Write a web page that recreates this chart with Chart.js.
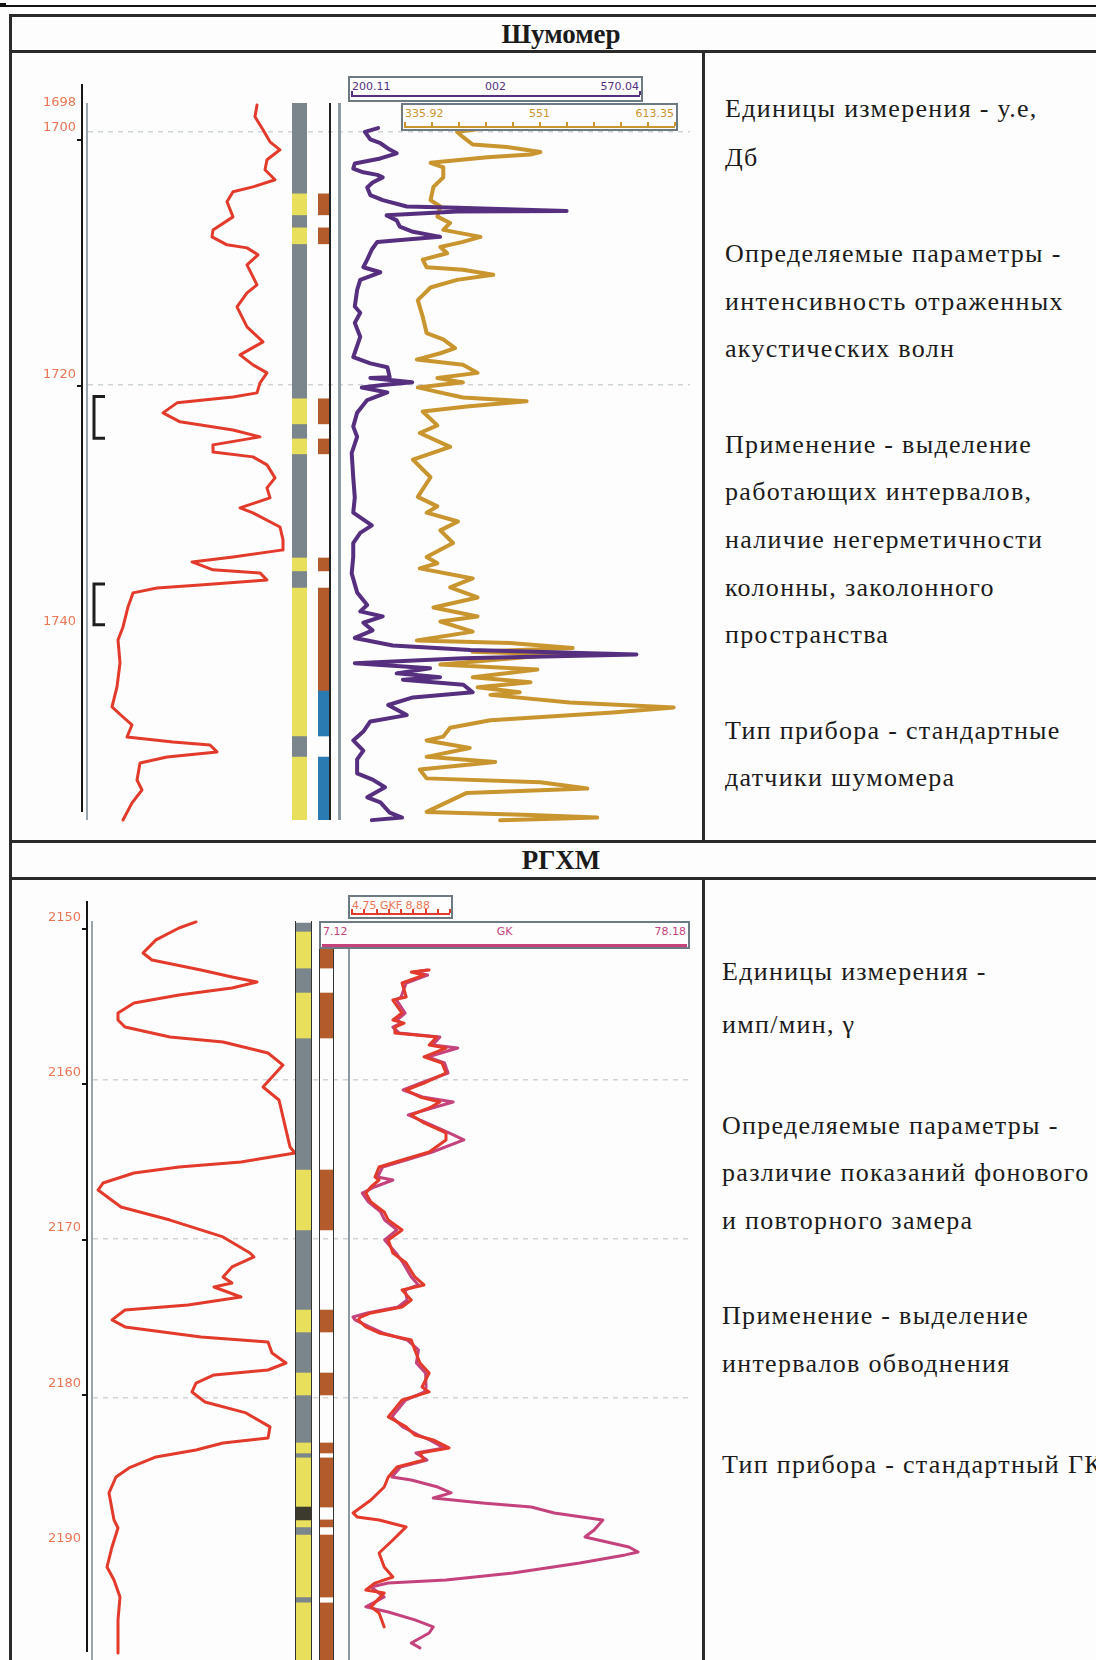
<!DOCTYPE html>
<html lang="ru">
<head>
<meta charset="utf-8">
<title>Шумомер / РГХМ</title>
<script src="https://cdn.jsdelivr.net/npm/chart.js@4.4.1/dist/chart.umd.min.js"></script>
<style>
  html,body{margin:0;padding:0;background:#fdfdfd;}
  #page{position:relative;width:1096px;height:1660px;overflow:hidden;background:#fdfdfd;
        font-family:"Liberation Serif","Times New Roman",serif;color:#1b1b1b;}
  #page canvas,#page .el{position:absolute;}
  .title{font-weight:bold;font-size:27px;text-align:center;width:300px;line-height:30px;}
  .txt{font-size:26px;line-height:30px;white-space:nowrap;letter-spacing:1.3px;}
  .box{border:2px solid #6d7a82;background:#fdfdfd;box-sizing:border-box;
       font-family:"DejaVu Sans",sans-serif;font-size:11px;line-height:12px;}
</style>
</head>
<body>
<div id="page"></div>
<script>
// ---------------- data: Шумомер (noise log), depths in m ----------------
const shumDepthRange = [1697.72, 1754.39];
const shumAxisRange = [1695.57, 1754.39];
const shumDepthTicks = [1698, 1700, 1720, 1740];
const shumGridDepths = [1700, 1720];

// left track curve, relative units 0..100
const shumLeftCurve = [[1697.87,83.5],[1698.81,82.5],[1699.84,86.5],[1700.79,90],[1701.42,95],[1702.21,88.5],[1703.0,87.5],[1703.79,92.5],[1704.35,81.5],[1704.74,71.5],[1705.53,68.5],[1706.72,71.5],[1707.75,61.5],[1708.3,61],[1708.93,68.5],[1709.17,78.5],[1709.72,84],[1710.51,78.5],[1712.09,83.5],[1712.73,78.5],[1713.83,73.5],[1715.42,78.5],[1716.6,86.5],[1717.63,75],[1718.42,81.5],[1719.05,88.5],[1719.84,85],[1720.63,83.5],[1720.95,71.5],[1721.42,43.5],[1722.21,36.5],[1722.92,45],[1723.56,71.5],[1724.11,85],[1724.74,61.5],[1725.3,61.5],[1725.69,81.5],[1726.32,88.5],[1727.35,92.5],[1728.14,88.5],[1728.93,90],[1729.72,75],[1730.12,81.5],[1731.23,95],[1732.25,96.5],[1733.04,96.5],[1733.6,71.5],[1733.99,51],[1734.62,61.5],[1734.86,85],[1735.42,88.5],[1735.81,55],[1736.05,33.5],[1736.44,21.5],[1737.55,19],[1739.13,16.5],[1740.16,14],[1741.98,15],[1743.87,13.5],[1745.45,11],[1746.25,16.5],[1746.88,21],[1747.83,18.5],[1748.22,41.5],[1748.46,60],[1749.01,63.5],[1749.41,38.5],[1749.88,25],[1751.23,23.5],[1752.02,26],[1753.04,21],[1754.39,16.5]];

// noise curve 1, scale 200.11 .. 570.04
const shumPurpleScale = [200.11, 570.04];
const shumPurple = [[1699.7,235],[1700.0,218],[1700.6,225],[1700.9,238],[1701.4,250],[1701.7,259],[1702.1,238],[1702.5,205],[1702.9,203],[1703.2,216],[1703.4,234],[1703.6,241],[1704.0,228],[1704.4,221],[1705.0,225],[1705.4,241],[1705.9,272],[1706.0,337],[1706.25,478],[1706.3,337],[1706.6,246],[1707.0,259],[1707.5,263],[1707.9,280],[1708.3,315],[1708.5,272],[1708.7,234],[1709.3,227],[1710.1,221],[1710.7,216],[1711.1,238],[1711.7,212],[1712.5,208],[1713.8,205],[1714.3,212],[1715.1,205],[1716.2,212],[1717.8,203],[1718.3,225],[1718.6,247],[1719.4,250],[1719.45,225],[1719.8,279],[1720.0,241],[1720.2,214],[1720.6,247],[1721.2,221],[1722.2,208],[1723.3,203],[1724.1,208],[1725.4,201],[1727.3,203],[1728.9,205],[1730.1,203],[1731.1,227],[1731.7,212],[1732.5,203],[1733.6,203],[1734.9,201],[1736.4,208],[1737.4,221],[1737.9,212],[1738.3,241],[1738.8,216],[1739.4,228],[1740.0,205],[1740.6,254],[1740.95,354],[1741.3,568],[1741.6,345],[1742.0,205],[1742.4,302],[1742.8,259],[1743.1,315],[1743.3,267],[1743.7,345],[1744.3,357],[1744.7,280],[1745.3,248],[1746.1,272],[1746.6,225],[1747.4,216],[1748.1,203],[1748.9,216],[1749.6,208],[1750.7,208],[1751.2,228],[1751.8,244],[1752.6,221],[1753.0,238],[1753.8,250],[1754.2,266],[1754.4,227]];

// noise curve 2, scale 335.92 .. 613.35
const shumOrangeScale = [335.92, 613.35];
const shumOrange = [[1699.7,422],[1700.0,391],[1700.4,397],[1701.0,407],[1701.2,442],[1701.6,476],[1701.8,466],[1702.0,422],[1702.45,364],[1702.8,377],[1703.6,377],[1704.35,367],[1705.4,364],[1705.9,374],[1706.7,371],[1707.2,384],[1707.75,377],[1708.3,415],[1708.7,397],[1709.1,374],[1709.6,381],[1710.1,356],[1710.7,360],[1710.9,397],[1711.3,428],[1711.7,391],[1712.3,364],[1713.3,351],[1714.6,356],[1715.9,360],[1716.4,377],[1717.1,389],[1717.5,374],[1718.0,350],[1718.4,397],[1719.05,412],[1719.45,371],[1719.8,397],[1720.2,351],[1720.55,371],[1721.0,397],[1721.3,462],[1721.7,401],[1722.1,356],[1723.2,371],[1723.8,353],[1724.9,384],[1725.9,346],[1727.3,364],[1728.85,351],[1729.6,371],[1730.1,360],[1730.8,392],[1731.5,374],[1732.5,387],[1733.6,360],[1734.1,371],[1734.5,353],[1735.3,407],[1736.0,384],[1736.8,412],[1737.6,367],[1738.3,412],[1738.7,374],[1739.5,407],[1740.2,350],[1740.4,445],[1740.8,509],[1741.1,407],[1741.3,493],[1742.1,374],[1742.5,473],[1743.1,407],[1743.5,466],[1743.9,412],[1744.3,455],[1744.5,425],[1745.1,506],[1745.5,612],[1745.9,550],[1746.5,425],[1747.1,384],[1747.8,377],[1748.1,360],[1748.7,404],[1749.4,360],[1749.8,430],[1750.4,353],[1751.1,360],[1751.4,476],[1751.9,524],[1752.25,401],[1753.75,360],[1754.0,466],[1754.2,534],[1754.4,435]];

// lithology and marked intervals
const shumColumn = [[1697.72, 1754.39]];
const shumYellow = [[1704.9,1706.56],[1707.59,1708.85],[1721.1,1723.08],[1724.27,1725.45],[1733.68,1734.7],[1736.05,1747.75],[1749.41,1754.39]];
const shumBrown = [[1704.9,1706.56],[1707.59,1708.85],[1721.1,1723.08],[1724.27,1725.45],[1733.68,1734.7],[1736.05,1744.2]];
const shumBlue = [[1744.2,1747.75],[1749.41,1754.39]];
const shumBrackets = [[1720.8,1724.2],[1736.0,1739.3]];

// ---------------- data: РГХМ, depths in m ----------------
const rghmDepthRange = [2150.0, 2196.48];
const rghmAxisRange = [2148.24, 2196.48];
const rghmDepthTicks = [2150, 2160, 2170, 2180, 2190];
const rghmTickMarks = [2150, 2160, 2170, 2180];
const rghmGridDepths = [2160, 2170, 2180];

const rghmLeftCurve = [[2150.06,53],[2150.44,44.5],[2151.19,33],[2152.01,26.5],[2152.45,31],[2153.08,55.5],[2153.52,71],[2153.84,83.5],[2154.21,71],[2154.65,44.5],[2155.16,22],[2155.79,14],[2156.23,14],[2156.67,17.5],[2157.3,40],[2157.61,66.5],[2158.3,89],[2159.06,96.5],[2160.44,86.5],[2161.26,94.5],[2163.14,98],[2164.21,100],[2164.59,102.5],[2165.16,75.5],[2165.47,44.5],[2165.85,22],[2166.48,6.5],[2166.92,4],[2167.99,15.5],[2168.81,40],[2169.87,66.5],[2170.88,80],[2171.13,82],[2171.76,71],[2172.39,66.5],[2172.77,71],[2173.02,62],[2173.65,75.5],[2174.15,49],[2174.47,17.5],[2175.09,11],[2175.53,17.5],[2176.16,55.5],[2176.48,89],[2177.17,91],[2177.8,98],[2178.24,89],[2178.55,62],[2179.06,53],[2179.62,51],[2180.25,57.5],[2180.94,78],[2181.82,90],[2182.52,89],[2182.83,66.5],[2183.27,53],[2183.71,33],[2184.4,19.5],[2184.97,13],[2185.97,9.5],[2187.67,12],[2188.18,14],[2189.37,11],[2190.63,8.5],[2191.45,12],[2192.52,15],[2193.96,14],[2196.04,14]];

// GK curves, scale 7.12 .. 78.18
const gkScale = [7.12, 78.18];
const gkRed = [[2153.08,27.9],[2153.21,24.4],[2153.4,26.9],[2153.9,22.6],[2154.78,23.4],[2154.97,20.8],[2155.79,22.6],[2156.23,20.8],[2156.42,23.0],[2156.67,21.2],[2157.04,21.2],[2157.3,29.4],[2157.8,27.9],[2157.99,31.2],[2158.55,26.9],[2158.93,30.4],[2159.56,31.2],[2160.19,26.9],[2160.63,23.4],[2161.07,26.1],[2161.38,30.0],[2161.76,27.9],[2162.2,24.4],[2162.7,26.9],[2163.33,31.2],[2163.77,31.2],[2164.53,27.9],[2165.03,22.6],[2165.47,18.1],[2166.1,17.3],[2166.29,18.1],[2166.73,16.5],[2167.11,15.5],[2167.67,16.5],[2168.3,19.1],[2168.81,19.9],[2169.43,22.6],[2170.06,19.9],[2170.88,20.8],[2171.51,23.4],[2172.39,25.1],[2172.89,26.9],[2173.21,22.6],[2173.84,24.4],[2174.28,22.6],[2174.65,16.5],[2174.91,14.5],[2175.09,14.0],[2175.53,15.5],[2175.91,18.1],[2176.35,24.4],[2176.98,25.1],[2177.8,26.1],[2178.43,27.9],[2179.31,26.5],[2179.62,27.9],[2180.13,22.6],[2181.19,19.9],[2181.82,23.4],[2182.33,25.1],[2182.64,28.7],[2183.14,31.8],[2183.46,26.1],[2183.9,26.9],[2184.34,21.6],[2184.97,19.9],[2185.6,19.1],[2186.42,16.5],[2187.23,13.0],[2187.48,13.8],[2187.67,18.1],[2188.11,23.4],[2188.93,20.8],[2189.75,18.1],[2190.63,19.1],[2191.26,20.8],[2191.64,17.3],[2192.08,15.5],[2192.26,19.1],[2193.14,16.5],[2193.52,18.1],[2194.4,19.1]];
const gkMagenta = [[2153.08,27.5],[2153.21,25.0],[2153.4,27.6],[2153.9,23.4],[2154.78,22.4],[2154.97,21.5],[2155.79,23.2],[2156.23,21.6],[2156.42,22.4],[2156.67,20.8],[2157.04,22.0],[2157.3,30.0],[2157.8,28.6],[2157.99,33.5],[2158.55,27.6],[2158.93,30.9],[2159.56,31.6],[2160.19,26.3],[2160.63,22.8],[2161.07,26.6],[2161.38,32.6],[2161.76,28.5],[2162.2,23.8],[2162.7,27.4],[2163.33,31.8],[2163.77,34.7],[2164.53,28.5],[2165.03,23.4],[2165.47,18.8],[2166.1,17.8],[2166.29,20.8],[2166.73,17.2],[2167.11,14.8],[2167.67,16.0],[2168.3,18.4],[2168.81,19.2],[2169.43,21.6],[2170.06,19.2],[2170.88,21.4],[2171.51,22.8],[2172.39,24.4],[2172.89,25.8],[2173.21,23.2],[2173.84,23.6],[2174.28,21.8],[2174.65,15.8],[2174.91,13.0],[2175.09,13.4],[2175.53,16.2],[2175.91,18.8],[2176.35,23.6],[2176.98,25.8],[2177.8,25.4],[2178.43,27.2],[2179.31,27.3],[2179.62,27.0],[2180.13,23.3],[2181.19,20.6],[2181.82,22.7],[2182.33,25.8],[2182.64,28.0],[2183.14,30.8],[2183.46,25.3],[2183.9,27.5],[2184.34,22.3],[2184.97,20.6],[2185.16,24.4],[2185.6,29.6],[2185.97,32.2],[2186.29,28.7],[2186.6,38.3],[2186.86,47.9],[2187.23,52.4],[2187.67,61.9],[2188.3,60.2],[2188.74,58.4],[2189.37,67.0],[2189.69,68.8],[2189.87,66.3],[2190.38,57.4],[2191.01,44.3],[2191.45,31.2],[2191.64,19.9],[2191.89,16.5],[2192.52,19.1],[2193.14,15.5],[2193.46,19.9],[2193.96,25.1],[2194.4,28.7],[2194.78,27.9],[2195.41,24.4],[2195.72,26.1]];

const rghmColumn = [[2150.13, 2196.48]];
const rghmReservoirs = [[2150.69,2152.96],[2154.53,2157.36],[2165.66,2169.43],[2174.47,2175.85],[2178.43,2179.81],[2182.83,2183.46],[2183.77,2186.86],[2187.67,2188.11],[2188.62,2192.52],[2192.89,2196.48]];
const rghmDark = [[2186.86,2187.67]];

// ---------------- text ----------------
const shumTitle = 'Шумомер';
const rghmTitle = 'РГХМ';
const shumNotes = [
  ['Единицы измерения - у.е,', 109], ['Дб', 158],
  ['Определяемые параметры -', 254], ['интенсивность отраженных', 302], ['акустических волн', 349],
  ['Применение - выделение', 445], ['работающих интервалов,', 492], ['наличие негерметичности', 540],
  [' колонны, заколонного', 588], ['пространства', 635],
  ['Тип прибора - стандартные', 731], ['датчики шумомера', 778]
];
const rghmNotes = [
  ['Единицы измерения -', 972], ['имп/мин, γ', 1025],
  ['Определяемые параметры -', 1126], ['различие показаний фонового', 1173], ['и повторного замера', 1221],
  ['Применение -  выделение', 1316], ['интервалов обводнения', 1364],
  ['Тип прибора - стандартный ГК', 1465]
];

// ---------------- colours ----------------
const C = {
  frame:'#2a2a2a', red:'#e23a2b', purple:'#56307f', orange:'#c9952f', magenta:'#c4437d',
  litho:'#7a858c', yellow:'#e8e05c', brown:'#b35b2a', blue:'#2b7bb3', dark:'#3b3a2c',
  depth:'#ea7656', track:'#8d9aa1', grid:'#d0d4d8'
};

// ---------------- helpers ----------------
const page = document.getElementById('page');
function el(style, text, cls){
  const d = document.createElement('div');
  d.className = 'el' + (cls ? ' ' + cls : '');
  for (const k in style) if (k !== 'parent') d.style[k] = typeof style[k] === 'number' ? style[k] + 'px' : style[k];
  if (text != null) d.textContent = text;
  (style.parent || page).appendChild(d);
  return d;
}
function canvasAt(left, top, width, height){
  const c = document.createElement('canvas');
  c.width = width; c.height = height;
  Object.assign(c.style, {left:left+'px', top:top+'px', width:width+'px', height:height+'px'});
  page.appendChild(c);
  return c;
}
Chart.defaults.font.family = '"DejaVu Sans", sans-serif';
function opts(o){
  return Object.assign({responsive:false, maintainAspectRatio:false, animation:false, events:[]}, o,
    {plugins:Object.assign({legend:{display:false}, tooltip:{enabled:false}}, o.plugins || {})});
}

// perforation-style brackets next to the depth axis
const bracketPlugin = {
  id:'brackets',
  afterDatasetsDraw(chart, args, o){
    if (!o.intervals) return;
    const {ctx, chartArea, scales:{y}} = chart;
    ctx.save();
    ctx.strokeStyle = o.color; ctx.lineWidth = o.width; ctx.lineJoin = 'miter';
    o.intervals.forEach(([a, b]) => {
      const y1 = y.getPixelForValue(a), y2 = y.getPixelForValue(b);
      const xl = chartArea.left + o.inset, xr = xl + o.arm;
      ctx.beginPath(); ctx.moveTo(xr, y1); ctx.lineTo(xl, y1); ctx.lineTo(xl, y2); ctx.lineTo(xr, y2); ctx.stroke();
    });
    ctx.restore();
  }
};

function depthAxis(left, top, width, height, range, axisWidth, ticks, marks, brackets){
  return new Chart(canvasAt(left, top, width, height), {
    type:'line', data:{datasets:[]}, plugins:[bracketPlugin],
    options:opts({
      layout:{padding:0},
      scales:{
        x:{type:'linear', display:false, min:0, max:1},
        y:{type:'linear', position:'left', reverse:true, min:range[0], max:range[1],
           afterFit:s => { s.width = axisWidth; },
           afterBuildTicks:s => { s.ticks = ticks.map(v => ({value:v})); },
           ticks:{color:C.depth, font:{size:13}, padding:1, labelOffset:-12, autoSkip:false, callback:v => String(v)},
           border:{display:true, color:'#151515', width:2},
           grid:{drawOnChartArea:false, drawTicks:true, tickLength:5, lineWidth:2,
                 color:c => (c.tick && marks.includes(c.tick.value)) ? '#151515' : 'rgba(0,0,0,0)'}}
      },
      plugins:{brackets:brackets ? {intervals:brackets, color:'#1e1e1e', width:3, inset:12, arm:11} : {}}
    })
  });
}

function gridChart(left, top, width, height, range, depths){
  return new Chart(canvasAt(left, top, width, height), {
    type:'line', data:{datasets:[]},
    options:opts({
      layout:{padding:0},
      scales:{
        x:{type:'linear', display:false, min:0, max:1},
        y:{type:'linear', reverse:true, min:range[0], max:range[1],
           afterFit:s => { s.width = 0; },
           afterBuildTicks:s => { s.ticks = depths.map(v => ({value:v})); },
           ticks:{display:false},
           border:{display:false, dash:[5,5]},
           grid:{drawTicks:false, color:C.grid, lineWidth:1.5}}
      }
    })
  });
}

function curveChart(left, top, width, height, range, xRange, series){
  const p = 6;
  return new Chart(canvasAt(left - p, top - p, width + 2*p, height + 2*p), {
    type:'scatter',
    data:{datasets:series.map(s => ({
      data:s.points.map(([d, v]) => ({x:v, y:d})),
      showLine:true, borderColor:s.color, borderWidth:s.width, pointRadius:0,
      tension:0, clip:false, borderJoinStyle:'round', borderCapStyle:'round'
    }))},
    options:opts({
      layout:{padding:p},
      scales:{
        x:{type:'linear', display:false, min:xRange[0], max:xRange[1]},
        y:{type:'linear', display:false, reverse:true, min:range[0], max:range[1]}
      }
    })
  });
}

function intervalChart(left, top, width, height, range, layers){
  const datasets = [];
  layers.forEach((layer, i) => layer.intervals.forEach(iv => datasets.push({
    data:[iv], backgroundColor:layer.color, borderWidth:0, grouped:false,
    barPercentage:1, categoryPercentage:1, order:layers.length - i
  })));
  return new Chart(canvasAt(left, top, width, height), {
    type:'bar', data:{labels:[''], datasets},
    options:opts({
      layout:{padding:0},
      scales:{
        x:{display:false},
        y:{display:false, reverse:true, min:range[0], max:range[1]}
      }
    })
  });
}

function scaleBox(left, top, width, height, labels, color, lineTop, lineW, nTicks, textColor){
  const b = el({left, top, width, height}, null, 'box');
  const inner = width - 4;
  el({parent:b, left:2, top:3, color:textColor || color}, labels[0]);
  if (labels[1]) el({parent:b, left:0, top:3, width:inner, textAlign:'center', color:textColor || color}, labels[1]);
  el({parent:b, right:2, top:3, color:textColor || color}, labels[2]);
  el({parent:b, left:1, top:lineTop, width:inner - 2, height:lineW, background:color});
  for (let i = 0; i < nTicks; i++) {
    el({parent:b, left:1 + Math.round(i * (inner - 3) / (nTicks - 1)), top:lineTop - 4, width:1.5, height:4, background:color});
  }
  return b;
}

// ---------------- frame ----------------
el({left:0, top:5, width:1096, height:2, background:'#111'});
el({left:0, top:3, width:6, height:4, background:'#111'});
el({left:9, top:14, width:1110, height:3, background:C.frame});
el({left:9, top:14, width:3, height:1660, background:C.frame});
el({left:9, top:50, width:1110, height:3, background:C.frame});
el({left:9, top:840, width:1110, height:3, background:C.frame});
el({left:9, top:877, width:1110, height:3, background:C.frame});
el({left:702, top:50, width:3, height:792, background:C.frame});
el({left:702, top:877, width:3, height:790, background:C.frame});
el({left:411, top:19}, shumTitle, 'title');
el({left:411, top:845}, rghmTitle, 'title');
shumNotes.forEach(([t, y]) => el({left:725, top:y - 15}, t, 'txt'));
rghmNotes.forEach(([t, y]) => el({left:722, top:y - 15}, t, 'txt'));

// ---------------- Шумомер ----------------
gridChart(88, 103, 602, 717, shumDepthRange, shumGridDepths);
depthAxis(0, 76, 112, 744, shumAxisRange, 82, shumDepthTicks, shumGridDepths, shumBrackets);
el({left:86, top:103, width:2, height:717, background:'#9aa5ab'});
curveChart(90, 103, 200, 717, shumDepthRange, [0, 100], [{points:shumLeftCurve, color:C.red, width:3}]);
intervalChart(292, 103, 15, 717, shumDepthRange, [
  {intervals:shumColumn, color:C.litho}, {intervals:shumYellow, color:C.yellow}]);
intervalChart(318, 103, 12, 717, shumDepthRange, [
  {intervals:shumBrown, color:C.brown}, {intervals:shumBlue, color:C.blue}]);
el({left:329, top:103, width:2, height:717, background:'#222'});
el({left:338, top:103, width:3, height:717, background:C.track});
curveChart(403, 103, 272, 717, shumDepthRange, shumOrangeScale, [{points:shumOrange, color:C.orange, width:4}]);
curveChart(351, 103, 287, 717, shumDepthRange, shumPurpleScale, [{points:shumPurple, color:C.purple, width:4}]);
scaleBox(348, 76, 295, 26, ['200.11', '002', '570.04'], C.purple, 17, 2, 2);
scaleBox(401, 103, 277, 28, ['335.92', '551', '613.35'], C.orange, 21, 2, 11);

// ---------------- РГХМ ----------------
gridChart(93, 921, 597, 739, rghmDepthRange, rghmGridDepths);
depthAxis(0, 893, 115, 767, rghmAxisRange, 87, rghmDepthTicks, rghmTickMarks, null);
el({left:91, top:921, width:2, height:739, background:'#9aa5ab'});
curveChart(90, 921, 210, 739, rghmDepthRange, [0, 105], [{points:rghmLeftCurve, color:C.red, width:3}]);
intervalChart(296, 921, 15, 739, rghmDepthRange, [
  {intervals:rghmColumn, color:C.litho}, {intervals:rghmReservoirs, color:C.yellow}, {intervals:rghmDark, color:C.dark}]);
el({left:295, top:921, width:1, height:739, background:'#333'});
el({left:311, top:921, width:1, height:739, background:'#333'});
intervalChart(320, 921, 13, 739, rghmDepthRange, [{intervals:rghmReservoirs, color:C.brown}]);
el({left:319, top:921, width:1, height:739, background:'#333'});
el({left:333, top:921, width:1, height:739, background:'#333'});
el({left:348, top:948, width:2, height:712, background:C.track});
curveChart(323, 921, 363, 739, rghmDepthRange, gkScale, [
  {points:gkRed, color:C.red, width:3}, {points:gkMagenta, color:C.magenta, width:3}]);
scaleBox(348, 895, 105, 24, ['4.75 GKF 8.88', '', ''], C.red, 16, 1.5, 9, C.depth);
scaleBox(319, 921, 371, 28, ['7.12', 'GK', '78.18'], C.magenta, 21, 3, 0);
</script>
</body>
</html>
